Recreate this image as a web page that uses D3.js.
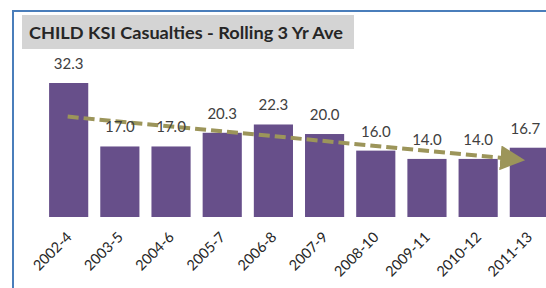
<!DOCTYPE html>
<html><head><meta charset="utf-8">
<script src="https://cdn.jsdelivr.net/npm/d3@7"></script>
<style>body{margin:0;background:#fff}svg{display:block}</style>
</head><body>
<script>
const categories = ["2002-4","2003-5","2004-6","2005-7","2006-8","2007-9","2008-10","2009-11","2010-12","2011-13"];
const values = [32.3,17.0,17.0,20.3,22.3,20.0,16.0,14.0,14.0,16.7];
const trendEnds = [24.2, 13.7];
const title = "CHILD KSI Casualties - Rolling 3 Yr Ave";

const W = 546, H = 288;
const svg = d3.select("body").append("svg").attr("width", W).attr("height", H);

// frame
svg.append("line").attr("x1",13).attr("x2",13).attr("y1",10).attr("y2",H).attr("stroke","#4a7ebb").attr("stroke-width",2);
svg.append("line").attr("x1",12).attr("x2",W).attr("y1",11).attr("y2",11).attr("stroke","#4a7ebb").attr("stroke-width",2);

// title
svg.append("rect").attr("x",22).attr("y",15).attr("width",332).attr("height",34).attr("fill","#d4d4d4");
svg.append("text").attr("x",29).attr("y",39).text(title)
  .attr("font-family","Lato").attr("font-weight","bold").attr("font-size",17.5)
  .attr("fill","#262626").attr("textLength",314).attr("lengthAdjust","spacingAndGlyphs");

const x = d3.scaleBand().domain(categories).range([45, 553]).paddingInner(0.235).paddingOuter(0.08);
const y = d3.scaleLinear().domain([0, 32.3]).range([217, 83]);

svg.append("g").selectAll("rect").data(values).join("rect")
  .attr("x",(d,i)=>x(categories[i])).attr("width",x.bandwidth())
  .attr("y",d=>y(d)).attr("height",d=>y(0)-y(d)).attr("fill","#674f8a");

// trend line
const cx = i => x(categories[i]) + x.bandwidth()/2;
const x0 = cx(0) - 1, x1 = cx(categories.length-1) - 4;
svg.append("defs").append("marker").attr("id","arr").attr("viewBox","0 0 10 10")
  .attr("refX",2).attr("refY",5).attr("markerWidth",6.2).attr("markerHeight",6.2)
  .attr("markerUnits","strokeWidth").attr("orient","auto")
  .append("path").attr("d","M0,0 L10,5 L0,10 Z").attr("fill","#9c955a");
const xe = x1 - 20;
svg.append("line").attr("x1",x0).attr("y1",y(trendEnds[0]))
  .attr("x2",xe).attr("y2",y(trendEnds[0]) + (y(trendEnds[1])-y(trendEnds[0]))*((xe-x0)/(x1-x0)))
  .attr("stroke","#9c955a").attr("stroke-width",4).attr("stroke-dasharray","11,5")
  .attr("marker-end","url(#arr)");

// value labels
svg.append("g").selectAll("text").data(values).join("text")
  .attr("x",(d,i)=>cx(i) - (i===categories.length-1 ? 4 : 0)).attr("y",d=>y(d)-14).attr("text-anchor","middle")
  .attr("font-family","Lato").attr("font-size",15).attr("fill","#404040")
  .text(d=>d.toFixed(1));

// x axis labels
const xAxis = d3.axisBottom(x).tickSize(0).tickPadding(0);
const gx = svg.append("g").attr("transform","translate(0,217)").call(xAxis);
gx.select(".domain").remove();
gx.selectAll("text").attr("font-family","Lato").attr("font-size",14.5).attr("fill","#262626")
  .attr("text-anchor","end").attr("dy",0).attr("y",0)
  .attr("transform","translate(4,21) rotate(-45)");
</script>
</body></html>
